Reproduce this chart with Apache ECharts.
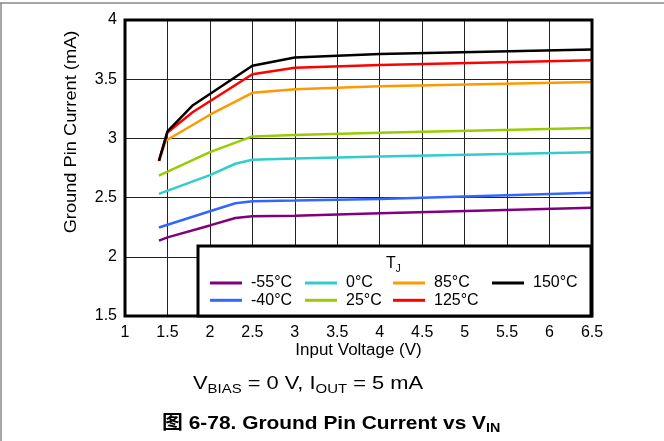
<!DOCTYPE html>
<html>
<head>
<meta charset="utf-8">
<script src="https://cdn.jsdelivr.net/npm/echarts@6/dist/echarts.min.js"></script>
<style>
html,body{margin:0;padding:0;background:#fff;}
#c{width:664px;height:441px;}
</style>
</head>
<body>
<div id="c"></div>
<script>
const seriesNames = ['-55°C','-40°C','0°C','25°C','85°C','125°C','150°C'];
const seriesColors = ['#800080','#3366FF','#33CCCC','#99CC00','#FF9900','#FF0000','#000000'];
const dM55 = [[1.4,2.136],[1.5,2.164],[2.0,2.265],[2.3,2.328],[2.5,2.342],[3,2.347],[4,2.367],[6.5,2.415]];
const dM40 = [[1.4,2.248],[2.0,2.385],[2.3,2.452],[2.5,2.469],[3,2.475],[4,2.489],[6.5,2.542]];
const d0   = [[1.4,2.531],[2.0,2.69],[2.3,2.786],[2.5,2.819],[3,2.83],[4,2.847],[6.5,2.884]];
const d25  = [[1.4,2.686],[2.0,2.884],[2.5,3.017],[3,3.028],[4,3.048],[6.5,3.087]];
const d85  = [[1.4,2.81],[1.48,2.98],[2.0,3.2],[2.5,3.385],[3,3.415],[4,3.441],[6.5,3.477]];
const d125 = [[1.4,2.81],[1.5,3.05],[1.8,3.223],[2.5,3.542],[3,3.596],[4,3.619],[6.5,3.661]];
const d150 = [[1.4,2.81],[1.5,3.06],[1.8,3.28],[2.5,3.613],[3,3.684],[4,3.712],[6.5,3.75]];
const allData = [dM55,dM40,d0,d25,d85,d125,d150];
const xMin = 1, xMax = 6.5, xStep = 0.5;
const yMin = 1.5, yMax = 4, yStep = 0.5;
const legendCols = [['-55°C','-40°C'],['0°C','25°C'],['85°C','125°C'],['150°C']];
const xTitle = 'Input Voltage (V)';
const yTitle = 'Ground Pin Current (mA)';

const FONT = '"Liberation Sans", Arial, sans-serif';
const chart = echarts.init(document.getElementById('c'), null, {renderer:'canvas'});
const legendLefts = [210, 305, 393, 492];
const option = {
  animation:false,
  backgroundColor:'#fff',
  grid:{left:125, right:72, top:20, bottom:125, show:true, borderColor:'#000', borderWidth:3, z:5},
  xAxis:{type:'value', min:xMin, max:xMax, interval:xStep,
    axisLine:{show:false}, axisTick:{show:false},
    axisLabel:{fontFamily:FONT, fontSize:16, color:'#000', margin:9},
    splitLine:{show:true, lineStyle:{color:'#222', width:1}}},
  yAxis:{type:'value', min:yMin, max:yMax, interval:yStep,
    axisLine:{show:false}, axisTick:{show:false},
    axisLabel:{fontFamily:FONT, fontSize:16, color:'#000', margin:8},
    splitLine:{show:true, lineStyle:{color:'#222', width:1}}},
  legend: legendCols.map((col,i)=>({
    data:col, orient:'vertical', left:legendLefts[i], top:275, itemGap:1.3, padding:0,
    icon:'rect', itemWidth:32, itemHeight:3, z:20,
    textStyle:{fontFamily:FONT, fontSize:16, color:'#000', lineHeight:16, padding:[0,0,0,4]}
  })),
  series: seriesNames.map((n,i)=>({
    name:n, type:'line', data:allData[i], showSymbol:false, symbol:'none',
    color:seriesColors[i], lineStyle:{width:2.5, color:seriesColors[i]}, z:3
  })),
  graphic:[
    {type:'line', shape:{x1:0,y1:3,x2:664,y2:3}, style:{stroke:'#888', lineWidth:1.5}, z:1},
    {type:'line', shape:{x1:1,y1:3,x2:1,y2:441}, style:{stroke:'#888', lineWidth:1.5}, z:1},
    {type:'rect', shape:{x:198, y:246, width:393, height:70}, style:{fill:'#fff', stroke:'#000', lineWidth:3}, z:10},
    {type:'text', x:386, y:254, z:21, style:{text:'{a|T}{b|J}', rich:{a:{fontFamily:FONT,fontSize:16,fill:'#000'}, b:{fontFamily:FONT,fontSize:10,fill:'#000',padding:[10,0,0,0]}}}},
    {type:'text', x:358.5, y:351, scaleX:1.06, z:21, style:{text:xTitle, fontFamily:FONT, fontSize:16, fill:'#000', align:'center', verticalAlign:'middle'}},
    {type:'text', x:72, y:132, rotation:Math.PI/2, scaleX:1.14, z:21, style:{text:yTitle, fontFamily:FONT, fontSize:16, fill:'#000', align:'center', verticalAlign:'middle'}},
    {type:'text', x:193, y:372, scaleX:1.15, z:21, style:{text:'{a|V}{s|BIAS}{a| = 0 V, I}{s|OUT}{a| = 5 mA}', rich:{a:{fontFamily:FONT,fontSize:19,fill:'#000'}, s:{fontFamily:FONT,fontSize:13,fill:'#000',padding:[11,0,0,0]}}}},
    {type:'text', x:162, y:412, scaleX:1.1, z:21, style:{text:'{a|图 6-78. Ground Pin Current vs V}{s|IN}', rich:{a:{fontFamily:'"Liberation Sans", "Noto Sans CJK SC", sans-serif',fontSize:19,fontWeight:'bold',fill:'#000'}, s:{fontFamily:FONT,fontSize:13,fontWeight:'bold',fill:'#000',padding:[10,0,0,0]}}}}
  ]
};
chart.setOption(option);
</script>
</body>
</html>
